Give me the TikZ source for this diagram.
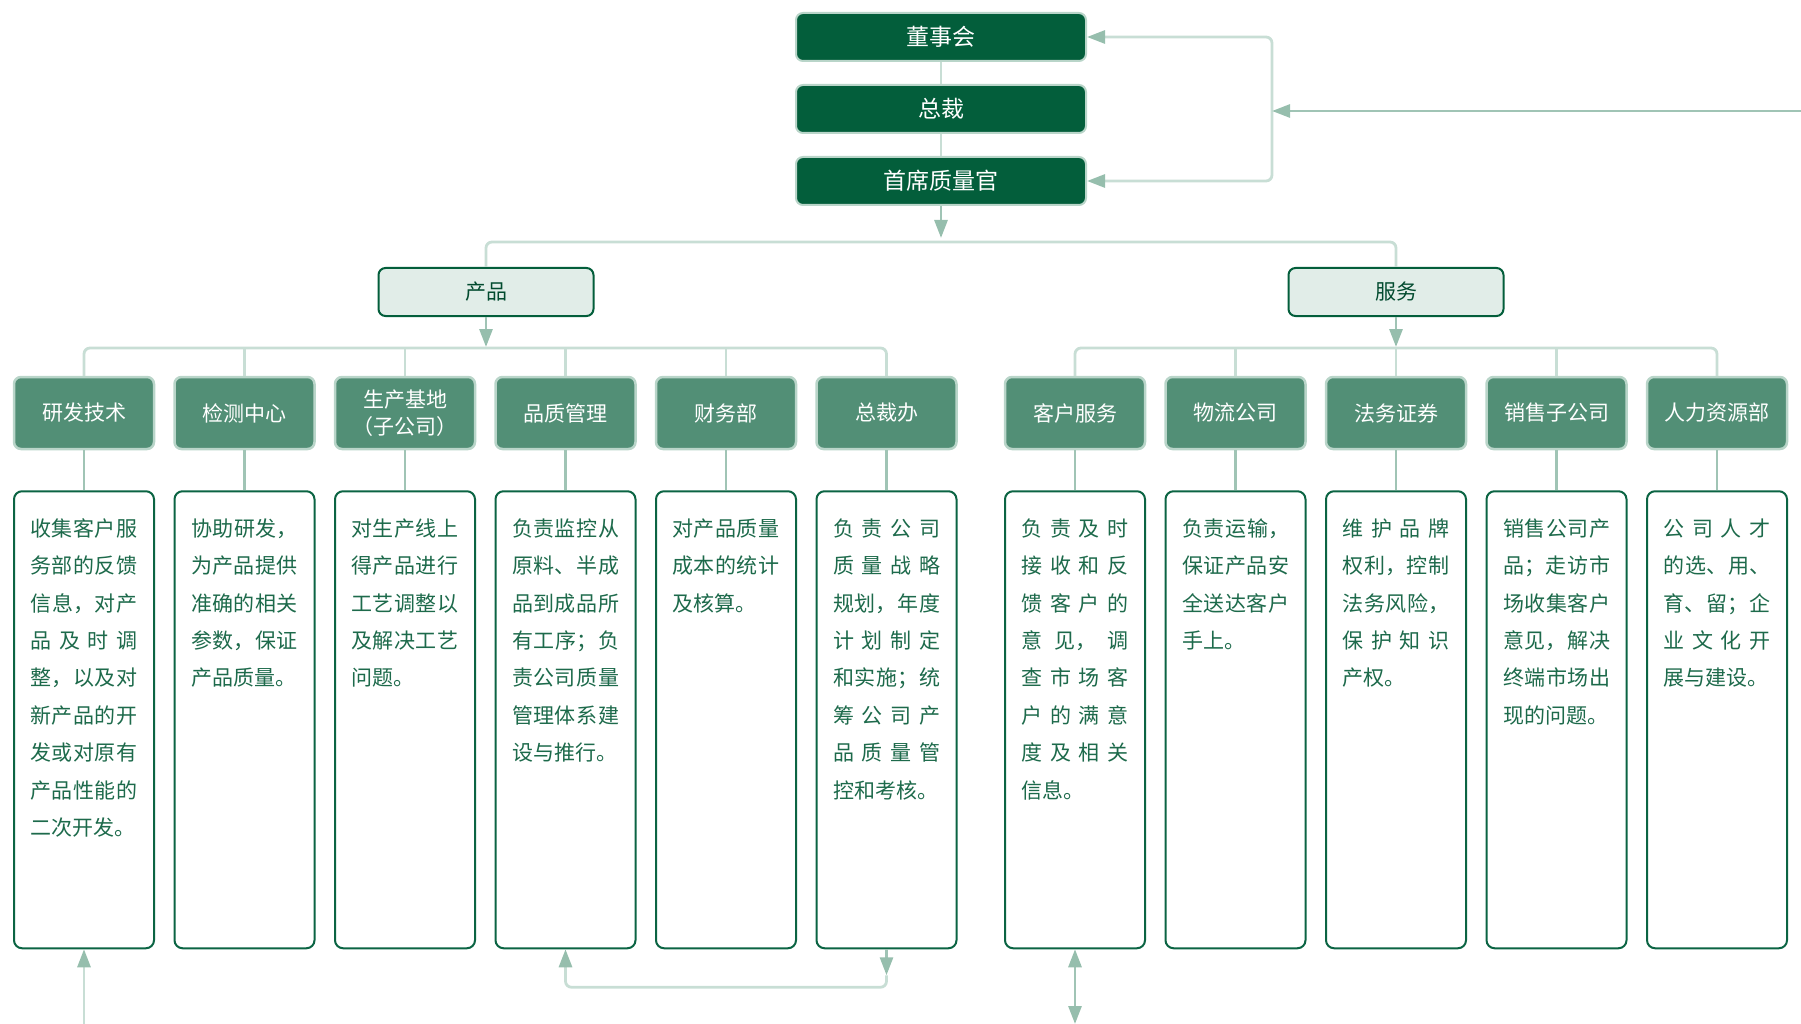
\documentclass[tikz,border=0pt]{standalone}
\usepackage{fontspec}
\setmainfont{Noto Sans CJK SC}
\usepackage{tikz}
\usetikzlibrary{arrows.meta,positioning}
\XeTeXlinebreaklocale "zh"
\XeTeXlinebreakskip=0pt plus 2pt
\definecolor{boardgreen}{HTML}{035E3B}
\definecolor{deptgreen}{HTML}{528F76}
\definecolor{palegreen}{HTML}{E1EDE8}
\definecolor{rimgreen}{HTML}{B9D5C9}
\definecolor{linkgreen}{HTML}{C8DED5}
\definecolor{stemgreen}{HTML}{A0C4B5}
\definecolor{tipgreen}{HTML}{96BEAD}
\definecolor{inkgreen}{HTML}{1D6A4B}
\definecolor{framegreen}{HTML}{0B6443}
\tikzstyle{link}=[
	draw=linkgreen,
	line width=2.8pt
]
\tikzstyle{stem}=[
	draw=stemgreen,
	line width=2.8pt
]
\tikzstyle{headbox}=[
	node distance=22pt,
	rectangle,
	rounded corners=7pt,
	minimum width=290pt,
	minimum height=48pt,
	fill=boardgreen,
	draw=rimgreen,
	line width=2pt,
	text=white,
	font=\fontsize{23}{27}\selectfont
]
\tikzstyle{groupbox}=[
	rectangle,
	rounded corners=7pt,
	minimum width=215pt,
	minimum height=48pt,
	fill=palegreen,
	draw=boardgreen,
	line width=2pt,
	text=boardgreen!80!black,
	font=\fontsize{21}{25}\selectfont
]
\tikzstyle{deptbox}=[
	node distance=18pt,
	rectangle,
	rounded corners=7pt,
	minimum width=140pt,
	minimum height=72pt,
	fill=deptgreen,
	draw=rimgreen,
	line width=2.5pt,
	text=white,
	align=center,
	font=\fontsize{21}{27}\selectfont
]
\tikzstyle{dutybox}=[
	node distance=40pt,
	rectangle,
	rounded corners=8pt,
	draw=framegreen,
	line width=2pt,
	fill=white,
	text=inkgreen,
	text width=107pt,
	inner xsep=16.5pt,
	inner ysep=18pt,
	text height=27pt,
	text depth=394pt,
	align=justify,
	font=\fontsize{21}{37.4}\selectfont
]

\begin{document}
\begin{tikzpicture}[x=1pt, y=-1pt, >={Triangle[length=18pt,width=13pt,color=tipgreen]}]
\useasboundingbox (0,0) rectangle (1801,1024);
% top of the tree
\node[headbox] (board) at (941,37) {董事会};
\node[headbox, below=of board] (ceo) {总裁};
\node[headbox, below=of ceo] (cqo) {首席质量官};

\node[groupbox] (prod) at (486,292) {产品};
\node[groupbox] (serv) at (1396,292) {服务};

% departments
\node[deptbox] (p1) at (84,413) {研发技术};
\node[deptbox, right=of p1] (p2) {检测中心};
\node[deptbox, right=of p2] (p3) {生产基地\\（子公司）};
\node[deptbox, right=of p3] (p4) {品质管理};
\node[deptbox, right=of p4] (p5) {财务部};
\node[deptbox, right=of p5] (p6) {总裁办};

\node[deptbox] (s1) at (1075,413) {客户服务};
\node[deptbox, right=of s1] (s2) {物流公司};
\node[deptbox, right=of s2] (s3) {法务证券};
\node[deptbox, right=of s3] (s4) {销售子公司};
\node[deptbox, right=of s4] (s5) {人力资源部};

% duties
\node[dutybox, below=of p1] (d1) {收集客户服\linebreak 务部的反馈\linebreak 信息，对产\linebreak 品及时调\linebreak 整，以及对\linebreak 新产品的开\linebreak 发或对原有\linebreak 产品性能的\linebreak 二次开发。};
\node[dutybox, below=of p2] (d2) {协助研发，\linebreak 为产品提供\linebreak 准确的相关\linebreak 参数，保证\linebreak 产品质量。};
\node[dutybox, below=of p3] (d3) {对生产线上\linebreak 得产品进行\linebreak 工艺调整以\linebreak 及解决工艺\linebreak 问题。};
\node[dutybox, below=of p4] (d4) {负责监控从\linebreak 原料、半成\linebreak 品到成品所\linebreak 有工序；负\linebreak 责公司质量\linebreak 管理体系建\linebreak 设与推行。};
\node[dutybox, below=of p5] (d5) {对产品质量\linebreak 成本的统计\linebreak 及核算。};
\node[dutybox, below=of p6] (d6) {负责公司\linebreak 质量战略\linebreak 规划，年度\linebreak 计划制定\linebreak 和实施；统\linebreak 筹公司产\linebreak 品质量管\linebreak 控和考核。};
\node[dutybox, below=of s1] (d7) {负责及时\linebreak 接收和反\linebreak 馈客户的\linebreak 意见，调\linebreak 查市场客\linebreak 户的满意\linebreak 度及相关\linebreak 信息。};
\node[dutybox, below=of s2] (d8) {负责运输，\linebreak 保证产品安\linebreak 全送达客户\linebreak 手上。};
\node[dutybox, below=of s3] (d9) {维护品牌\linebreak 权利，控制\linebreak 法务风险，\linebreak 保护知识\linebreak 产权。};
\node[dutybox, below=of s4] (d10) {销售公司产\linebreak 品；走访市\linebreak 场收集客户\linebreak 意见，解决\linebreak 终端市场出\linebreak 现的问题。};
\node[dutybox, below=of s5] (d11) {公司人才\linebreak 的选、用、\linebreak 育、留；企\linebreak 业文化开\linebreak 展与建设。};

\coordinate (split) at (941,242);
\coordinate (fbjoin) at (1272,111);
\coordinate (ext) at (1801,111);
\coordinate (pbus) at (486,348);
\coordinate (sbus) at (1396,348);
\coordinate (rdin) at (84,1024);
\coordinate (csout) at (1075,1024);
\path (d6.south) ++(0,26) coordinate (loopdown);
\path (d6.south) ++(0,38) coordinate (loopcorner);

\draw[link] (board) -- (ceo);
\draw[link] (ceo) -- (cqo);
\draw[stem, ->, shorten >=4pt] (cqo) -- (split);
\draw[link, rounded corners=6pt] (prod.north) |- (split) -| (serv.north);
\draw[link, <->, rounded corners=6pt] (board.east) -| (fbjoin) |- (cqo.east);
\draw[stem, ->] (ext) -- (fbjoin);

\draw[stem, ->, shorten >=1pt] (prod) -- (pbus);
\draw[link, rounded corners=6pt] (p1.north) |- (pbus) -| (p6.north);
\foreach \i in {2,...,5}
	\draw[link] (p\i.north) -- (p\i.north |- pbus);
\draw[stem, ->, shorten >=1pt] (serv) -- (sbus);
\draw[link, rounded corners=6pt] (s1.north) |- (sbus) -| (s5.north);
\foreach \i in {2,...,4}
	\draw[link] (s\i.north) -- (s\i.north |- sbus);

\foreach \i in {1,...,6}
	\draw[stem] (p\i) -- (d\i);
\foreach \i/\j in {1/7,2/8,3/9,4/10,5/11}
	\draw[stem] (s\i) -- (d\j);

\draw[link, ->] (rdin) -- (d1);
\draw[stem, ->] (d6.south) -- (loopdown);
\draw[link, ->, rounded corners=6pt] (loopdown) -- (loopcorner) -| (d4.south);
\draw[stem, <->] (d7) -- (csout);

\end{tikzpicture}
\end{document}
